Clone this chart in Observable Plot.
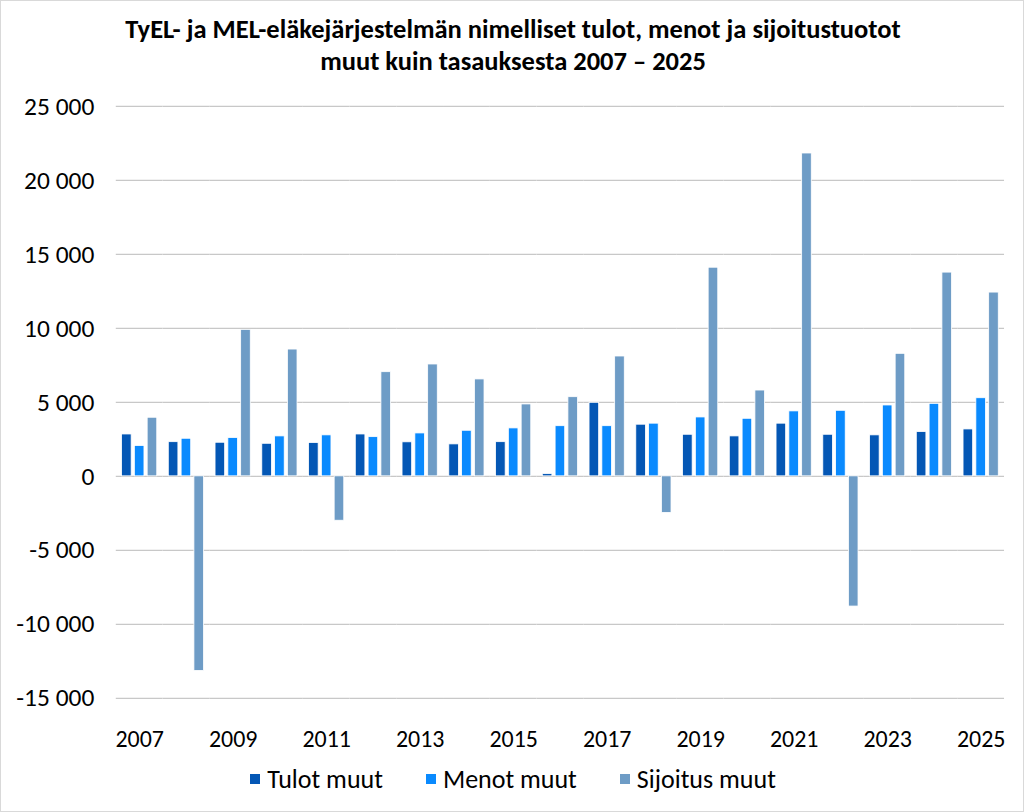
<!DOCTYPE html>
<html>
<head>
<meta charset="utf-8">
<script src="https://cdn.jsdelivr.net/npm/d3@7"></script>
<script src="https://cdn.jsdelivr.net/npm/@observablehq/plot@0.6"></script>
<style>
  html, body { margin: 0; padding: 0; background: #fff; }
  #frame { position: relative; width: 1024px; height: 812px; box-sizing: border-box; border: 1px solid #d9d9d9; overflow: hidden;
    font-family: Carlito, "Liberation Sans Narrow", Lato, sans-serif; color: #000; }
  #title { position: absolute; top: 12px; left: 0; width: 1024px; text-align: center; font-weight: bold; font-size: 26.5px; line-height: 32px; }
  #chart { position: absolute; top: 80px; left: 0; }
  #legend { position: absolute; top: 762px; left: 0; width: 1024px; display: flex; justify-content: center; gap: 43px; font-size: 26px; line-height: 32px; }
  #legend span.item { display: flex; align-items: center; }
  #legend span.sw { display: inline-block; width: 10px; height: 10px; margin-right: 7px; }
</style>
</head>
<body>
<div id="frame">
  <div id="title">TyEL- ja MEL-eläkejärjestelmän nimelliset tulot, menot ja sijoitustuotot<br>muut kuin tasauksesta 2007 – 2025</div>
  <div id="chart"></div>
  <div id="legend"></div>
</div>
<script>
const years = [2007,2008,2009,2010,2011,2012,2013,2014,2015,2016,2017,2018,2019,2020,2021,2022,2023,2024,2025];
const tulot = [2830,2310,2270,2200,2250,2830,2300,2160,2310,150,4970,3490,2810,2700,3560,2810,2770,2990,3170];
const menot = [2050,2540,2590,2700,2770,2650,2900,3080,3240,3390,3390,3560,3980,3890,4390,4430,4790,4900,5280];
const sijoitus = [3960,-13150,9900,8570,-3000,7040,7560,6550,4860,5350,8100,-2470,14100,5800,21820,-8800,8280,13770,12420];
const seriesNames = ["Tulot muut","Menot muut","Sijoitus muut"];
const seriesColors = ["#0457b5","#0a8afe","#6e9cc6"];
const yTicks = [-15000,-10000,-5000,0,5000,10000,15000,20000,25000];
const xLabelYears = [2007,2009,2011,2013,2015,2017,2019,2021,2023,2025];

const data = [];
years.forEach((y, i) => {
  data.push({year: y, series: seriesNames[0], value: tulot[i]});
  data.push({year: y, series: seriesNames[1], value: menot[i]});
  data.push({year: y, series: seriesNames[2], value: sijoitus[i]});
});

const fmt = d => (d < 0 ? "-" : "") + d3.format(",")(Math.abs(d)).replace(/,/g, " ");
const font = 'Carlito, "Liberation Sans Narrow", Lato, sans-serif';

const plot = Plot.plot({
  width: 1024,
  height: 683,
  marginTop: 25,
  marginBottom: 65,
  marginLeft: 115,
  marginRight: 19,
  style: { fontFamily: font, fontSize: "24px", color: "#000", background: "transparent" },
  fx: { domain: years, padding: 0, round: false, label: null, axis: null },
  x: { domain: seriesNames, paddingInner: 0.25, paddingOuter: 0.45, round: false, axis: null },
  y: { domain: [-15000, 25000], ticks: yTicks, label: null, tickFormat: fmt },
  color: { domain: seriesNames, range: seriesColors },
  marks: [
    Plot.ruleY(yTicks, { stroke: "#c8c8c8", strokeWidth: 1.3 }),
    Plot.axisY({ ticks: yTicks, tickSize: 0, tickPadding: 22, tickFormat: fmt, label: null, fontSize: 25.5 }),
    Plot.barY(data, { fx: "year", x: "series", y: "value", fill: "series", stroke: "#fff", strokeWidth: 0.8 }),
    Plot.axisFx({ ticks: xLabelYears, tickSize: 0, tickPadding: 32, tickFormat: d => String(d), label: null, fontSize: 24, anchor: "bottom" })
  ]
});
document.getElementById("chart").appendChild(plot);

const legend = document.getElementById("legend");
seriesNames.forEach((n, i) => {
  const item = document.createElement("span");
  item.className = "item";
  const sw = document.createElement("span");
  sw.className = "sw";
  sw.style.background = seriesColors[i];
  item.appendChild(sw);
  item.appendChild(document.createTextNode(n));
  legend.appendChild(item);
});
</script>
</body>
</html>
